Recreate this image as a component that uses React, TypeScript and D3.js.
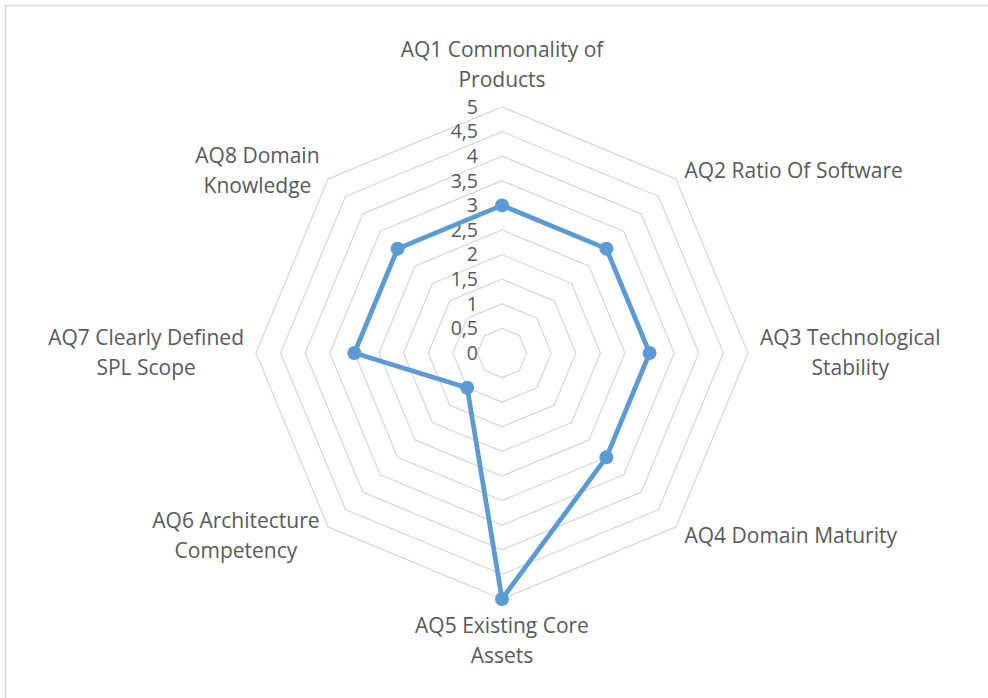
import React, { useEffect, useRef } from "react";
import * as d3 from "d3";

const categories = [
  "AQ1 Commonality of Products",
  "AQ2 Ratio Of Software",
  "AQ3 Technological Stability",
  "AQ4 Domain Maturity",
  "AQ5 Existing Core Assets",
  "AQ6 Architecture Competency",
  "AQ7 Clearly Defined SPL Scope",
  "AQ8 Domain Knowledge",
];
const categoryLines = [
  ["AQ1 Commonality of", "Products"],
  ["AQ2 Ratio Of Software"],
  ["AQ3 Technological", "Stability"],
  ["AQ4 Domain Maturity"],
  ["AQ5 Existing Core", "Assets"],
  ["AQ6 Architecture", "Competency"],
  ["AQ7 Clearly Defined", "SPL Scope"],
  ["AQ8 Domain", "Knowledge"],
];
const values = [3, 3, 3, 3, 5, 1, 3, 3];
const ticks = [0, 0.5, 1, 1.5, 2, 2.5, 3, 3.5, 4, 4.5, 5];
const tickLabels = ["0", "0,5", "1", "1,5", "2", "2,5", "3", "3,5", "4", "4,5", "5"];

const W = 988;
const H = 698;
const FONT = "'Open Sans', sans-serif";
const FS = 21;
const TFS = 19.5;

export default function App() {
  const ref = useRef<SVGSVGElement | null>(null);
  useEffect(() => {
    const svg = d3.select(ref.current);
    svg.selectAll("*").remove();
    const cx = 502;
    const cy = 353;
    const R = 246;
    const r = d3.scaleLinear().domain([0, 5]).range([0, R]);
    const n = categories.length;
    const angle = (i: number) => (i * 2 * Math.PI) / n - Math.PI / 2;
    const pt = (i: number, v: number): [number, number] => [
      cx + r(v) * Math.cos(angle(i)),
      cy + r(v) * Math.sin(angle(i)),
    ];

    // border
    svg
      .append("rect")
      .attr("x", 5.5)
      .attr("y", 5.5)
      .attr("width", W + 10)
      .attr("height", H + 10)
      .attr("fill", "white")
      .attr("stroke", "#d9d9d9")
      .attr("stroke-width", 1.5);

    const g = svg.append("g");
    // grid rings
    ticks
      .filter((t) => t > 0)
      .forEach((t) => {
        const pts = d3.range(n).map((i) => pt(i, t));
        g.append("path")
          .attr("d", d3.line()(pts)! + "Z")
          .attr("fill", "none")
          .attr("stroke", "#d9d9d9")
          .attr("stroke-width", 1.3);
      });

    // tick labels
    ticks.forEach((t, k) => {
      g.append("text")
        .attr("x", cx - 24)
        .attr("y", cy - r(t))
        .attr("dy", "0.35em")
        .attr("text-anchor", "end")
        .attr("font-family", FONT)
        .attr("font-size", TFS)
        .attr("fill", "#595959")
        .text(tickLabels[k]);
    });

    // data line
    const dpts = values.map((v, i) => pt(i, v));
    g.append("path")
      .attr("d", d3.line()(dpts)! + "Z")
      .attr("fill", "none")
      .attr("stroke", "#5b9bd5")
      .attr("stroke-width", 4.75)
      .attr("stroke-linejoin", "round");
    g.selectAll("circle.m")
      .data(dpts)
      .join("circle")
      .attr("class", "m")
      .attr("cx", (d) => d[0])
      .attr("cy", (d) => d[1])
      .attr("r", 7)
      .attr("fill", "#5b9bd5");

    // category labels
    const LR = 258;
    const LH = 30;
    categoryLines.forEach((lines, i) => {
      const a = angle(i);
      const px = cx + LR * Math.cos(a);
      const py = cy + LR * Math.sin(a);
      const tg = g.append("g");
      const texts = lines.map((l, j) =>
        tg
          .append("text")
          .attr("font-family", FONT)
          .attr("font-size", FS)
          .attr("fill", "#595959")
          .attr("text-anchor", "middle")
          .attr("dy", "0.35em")
          .attr("y", j * LH)
          .text(l)
      );
      const widths = texts.map((t) => (t.node() as SVGTextElement).getComputedTextLength());
      const bw = Math.max(...widths);
      const bh = lines.length * LH;
      const c = Math.cos(a);
      const s = Math.sin(a);
      let bx: number;
      if (Math.abs(c) < 1e-6) bx = px;
      else if (c > 0) bx = px + bw / 2;
      else bx = px - bw / 2;
      let byTop: number;
      if (Math.abs(s - -1) < 1e-6) byTop = py - bh;
      else if (Math.abs(s - 1) < 1e-6) byTop = py;
      else byTop = py - bh / 2;
      tg.attr("transform", `translate(${bx},${byTop + LH / 2})`);
    });
  }, []);
  return (
    <svg
      ref={ref}
      width={W}
      height={H}
      style={{ position: "absolute", left: 0, top: 0, background: "white" }}
    />
  );
}
